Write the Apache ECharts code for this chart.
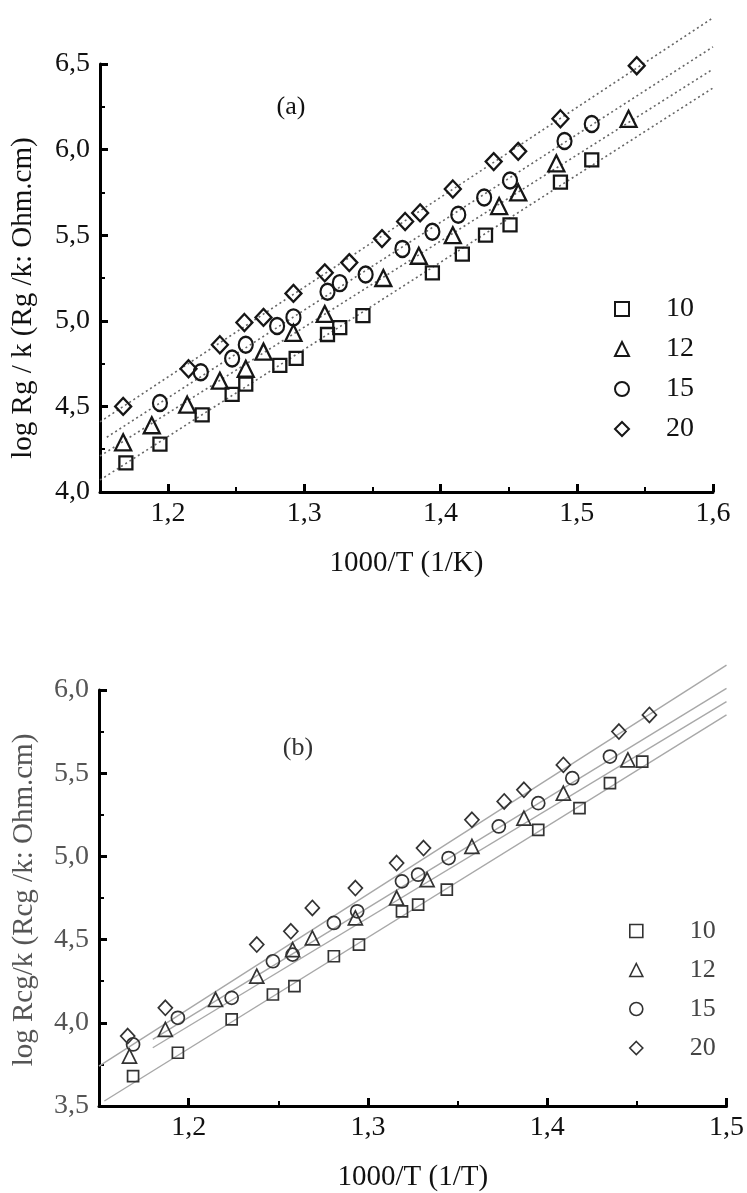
<!DOCTYPE html>
<html>
<head>
<meta charset="utf-8">
<script src="https://cdn.jsdelivr.net/npm/echarts@6/dist/echarts.min.js"></script>
<style>
html,body{margin:0;padding:0;background:#fff;}
#c{width:747px;height:1193px;}
</style>
</head>
<body>
<div id="c"></div>
<script>
// ---------- Chart (a) data ----------
const sqA_x   = [1.169,1.194,1.225,1.247,1.257,1.282,1.294,1.317,1.326,1.343,1.394,1.416,1.433,1.451,1.488,1.511];
const sqA_y   = [4.17,4.28,4.45,4.57,4.63,4.74,4.78,4.92,4.96,5.03,5.28,5.39,5.50,5.56,5.81,5.94];
const triA_x  = [1.167,1.188,1.214,1.238,1.257,1.270,1.292,1.315,1.358,1.384,1.409,1.443,1.457,1.485,1.538];
const triA_y  = [4.29,4.39,4.51,4.65,4.72,4.82,4.93,5.04,5.25,5.38,5.50,5.67,5.75,5.92,6.18];
const circA_x = [1.194,1.224,1.247,1.257,1.280,1.292,1.317,1.326,1.345,1.372,1.394,1.413,1.432,1.451,1.491,1.511];
const circA_y = [4.52,4.70,4.78,4.86,4.97,5.02,5.17,5.22,5.27,5.42,5.52,5.62,5.72,5.82,6.05,6.15];
const diaA_x  = [1.167,1.215,1.238,1.256,1.270,1.292,1.315,1.333,1.357,1.374,1.385,1.409,1.439,1.457,1.488,1.544];
const diaA_y  = [4.50,4.72,4.86,4.99,5.02,5.16,5.28,5.34,5.48,5.58,5.63,5.77,5.93,5.99,6.18,6.49];
// fitted lines (end points)
const lineA10 = [[1.15,4.07],[1.6,6.36]];
const lineA12 = [[1.15,4.21],[1.6,6.47]];
const lineA15 = [[1.155,4.32],[1.6,6.60]];
const lineA20 = [[1.15,4.41],[1.6,6.77]];

// ---------- Chart (b) data ----------
const sqB_x   = [1.169,1.194,1.224,1.247,1.259,1.281,1.295,1.319,1.328,1.344,1.395,1.418,1.435,1.453];
const sqB_y   = [3.68,3.82,4.02,4.17,4.22,4.40,4.47,4.67,4.71,4.80,5.16,5.29,5.44,5.57];
const triB_x  = [1.167,1.187,1.215,1.238,1.258,1.269,1.293,1.316,1.333,1.358,1.387,1.409,1.445];
const triB_y  = [3.80,3.96,4.14,4.28,4.44,4.51,4.63,4.75,4.86,5.06,5.23,5.38,5.58];
const circB_x = [1.169,1.194,1.224,1.247,1.258,1.281,1.294,1.319,1.328,1.345,1.373,1.395,1.414,1.435];
const circB_y = [3.87,4.03,4.15,4.37,4.41,4.60,4.67,4.85,4.89,4.99,5.18,5.32,5.47,5.60];
const diaB_x  = [1.166,1.187,1.238,1.257,1.269,1.293,1.316,1.331,1.358,1.376,1.387,1.409,1.440,1.457];
const diaB_y  = [3.92,4.09,4.47,4.55,4.69,4.81,4.96,5.05,5.22,5.33,5.40,5.55,5.75,5.85];
const lineB10 = [[1.153,3.53],[1.5,5.85]];
const lineB12 = [[1.18,3.85],[1.5,5.93]];
const lineB15 = [[1.18,3.90],[1.5,6.01]];
const lineB20 = [[1.15,3.74],[1.5,6.15]];

// ---------- tick labels ----------
const xTicksA = [1.2,1.3,1.4,1.5,1.6];
const xMinorA = [1.25,1.35,1.45,1.55];
const xTicksB = [1.2,1.3,1.4,1.5];
const xMinorB = [1.25,1.35,1.45];
const legendNames = ['10','12','15','20'];

const zip = (xs, ys) => xs.map((x, i) => [x, ys[i]]);
const fmt = v => v.toFixed(1).replace('.', ',');
const FONT = 'Liberation Serif';

function majorX(grid, min, max, ticks, name, color) {
  return {
    type: 'value', gridIndex: grid, position: 'bottom', min: min, max: max,
    name: name, nameLocation: 'middle', nameGap: 57,
    nameTextStyle: {fontFamily: FONT, fontSize: 29, color: '#111'},
    axisLine: {show: true, onZero: false, lineStyle: {color: '#000', width: 3}},
    axisTick: {show: true, inside: true, length: 8, customValues: ticks, lineStyle: {color: '#000', width: 3}},
    axisLabel: {show: true, customValues: ticks, margin: 8, formatter: fmt,
      fontFamily: FONT, fontSize: 28, color: color},
    splitLine: {show: false}
  };
}
function minorX(grid, min, max, ticks) {
  return {
    type: 'value', gridIndex: grid, position: 'bottom', min: min, max: max,
    axisLine: {show: false, onZero: false},
    axisTick: {show: true, inside: true, length: 5, customValues: ticks, lineStyle: {color: '#000', width: 2}},
    axisLabel: {show: false}, splitLine: {show: false}
  };
}
function yAx(grid, min, max, color) {
  return {
    type: 'value', gridIndex: grid, min: min, max: max, interval: 0.5,
    axisLine: {show: true, onZero: false, lineStyle: {color: '#000', width: 3}},
    axisTick: {show: true, inside: true, length: 8, lineStyle: {color: '#000', width: 3}},
    minorTick: {show: true, splitNumber: 2, length: 5, lineStyle: {color: '#000', width: 2}},
    axisLabel: {margin: 10, formatter: fmt, fontFamily: FONT, fontSize: 28, color: color},
    splitLine: {show: false}, minorSplitLine: {show: false}
  };
}
function scat(name, xi, yi, data, symbol, size, stroke, bw) {
  return {
    type: 'scatter', name: name, xAxisIndex: xi, yAxisIndex: yi, data: data,
    symbol: symbol, symbolSize: size, z: 3,
    itemStyle: {color: 'rgba(0,0,0,0)', borderColor: stroke, borderWidth: bw, opacity: 1}
  };
}
function fitLine(xi, yi, data, style) {
  return {
    type: 'line', xAxisIndex: xi, yAxisIndex: yi, data: data, showSymbol: false,
    symbol: 'none', clip: false, silent: true, z: 2, lineStyle: style
  };
}

const dotA = {color: '#666', width: 1.6, type: [2, 3]};
const solB = {color: '#a8a8a8', width: 1.4, type: 'solid'};
const strokeA = '#161616', strokeB = '#333';

const option = {
  animation: false,
  backgroundColor: '#fff',
  grid: [
    {left: 100, top: 64, width: 613, height: 428},
    {left: 99, top: 690, width: 629, height: 418}
  ],
  xAxis: [
    majorX(0, 1.15, 1.6, xTicksA, '1000/T (1/K)', '#111'),
    minorX(0, 1.15, 1.6, xMinorA),
    majorX(1, 1.15, 1.5, xTicksB, '1000/T (1/T)', '#111'),
    minorX(1, 1.15, 1.5, xMinorB)
  ],
  yAxis: [
    yAx(0, 4.0, 6.5, '#111'),
    yAx(1, 3.5, 6.0, '#555')
  ],
  legend: [
    {
      orient: 'vertical', left: 609, top: 290, itemWidth: 14, itemHeight: 14, itemGap: 12,
      data: legendNames.map(n => 'a' + n),
      formatter: n => '{t|' + n.slice(1) + '}',
      textStyle: {fontFamily: FONT, fontSize: 28, color: '#111', rich: {t: {fontFamily: FONT, fontSize: 28, color: '#111', padding: [0, 0, 0, 32]}}},
      itemStyle: {color: 'rgba(0,0,0,0)', borderColor: strokeA, borderWidth: 2}
    },
    {
      orient: 'vertical', left: 624, top: 913, itemWidth: 13, itemHeight: 13, itemGap: 13,
      data: legendNames.map(n => 'b' + n),
      formatter: n => '{t|' + n.slice(1) + '}',
      textStyle: {fontFamily: FONT, fontSize: 26, color: '#444', rich: {t: {fontFamily: FONT, fontSize: 26, color: '#444', padding: [0, 0, 0, 42]}}},
      itemStyle: {color: 'rgba(0,0,0,0)', borderColor: strokeB, borderWidth: 1.6}
    }
  ],
  graphic: [
    {type: 'text', x: 23, y: 298, rotation: Math.PI / 2,
     style: {text: 'log Rg / k (Rg /k: Ohm.cm)', fontFamily: FONT, fontSize: 29, fill: '#111', align: 'center', verticalAlign: 'middle'}},
    {type: 'text', x: 24, y: 900, rotation: Math.PI / 2,
     style: {text: 'log Rcg/k (Rcg /k: Ohm.cm)', fontFamily: FONT, fontSize: 29, fill: '#555', align: 'center', verticalAlign: 'middle'}},
    {type: 'text', x: 291, y: 107,
     style: {text: '(a)', fontFamily: FONT, fontSize: 26, fill: '#111', align: 'center', verticalAlign: 'middle'}},
    {type: 'text', x: 298, y: 748,
     style: {text: '(b)', fontFamily: FONT, fontSize: 26, fill: '#333', align: 'center', verticalAlign: 'middle'}}
  ],
  series: [
    fitLine(0, 0, lineA10, dotA),
    fitLine(0, 0, lineA12, dotA),
    fitLine(0, 0, lineA15, dotA),
    fitLine(0, 0, lineA20, dotA),
    scat('a10', 0, 0, zip(sqA_x, sqA_y), 'rect', 13, strokeA, 2.3),
    scat('a12', 0, 0, zip(triA_x, triA_y), 'triangle', 16, strokeA, 2.3),
    scat('a15', 0, 0, zip(circA_x, circA_y), 'circle', [14, 16], strokeA, 2.3),
    scat('a20', 0, 0, zip(diaA_x, diaA_y), 'diamond', [16, 17], strokeA, 2.3),
    fitLine(2, 1, lineB10, solB),
    fitLine(2, 1, lineB12, solB),
    fitLine(2, 1, lineB15, solB),
    fitLine(2, 1, lineB20, solB),
    scat('b10', 2, 1, zip(sqB_x, sqB_y), 'rect', 11, strokeB, 1.7),
    scat('b12', 2, 1, zip(triB_x, triB_y), 'triangle', 14, strokeB, 1.7),
    scat('b15', 2, 1, zip(circB_x, circB_y), 'circle', 13, strokeB, 1.7),
    scat('b20', 2, 1, zip(diaB_x, diaB_y), 'diamond', [14, 15], strokeB, 1.7)
  ]
};

const chart = echarts.init(document.getElementById('c'), null, {renderer: 'canvas'});
chart.setOption(option);
</script>
</body>
</html>
